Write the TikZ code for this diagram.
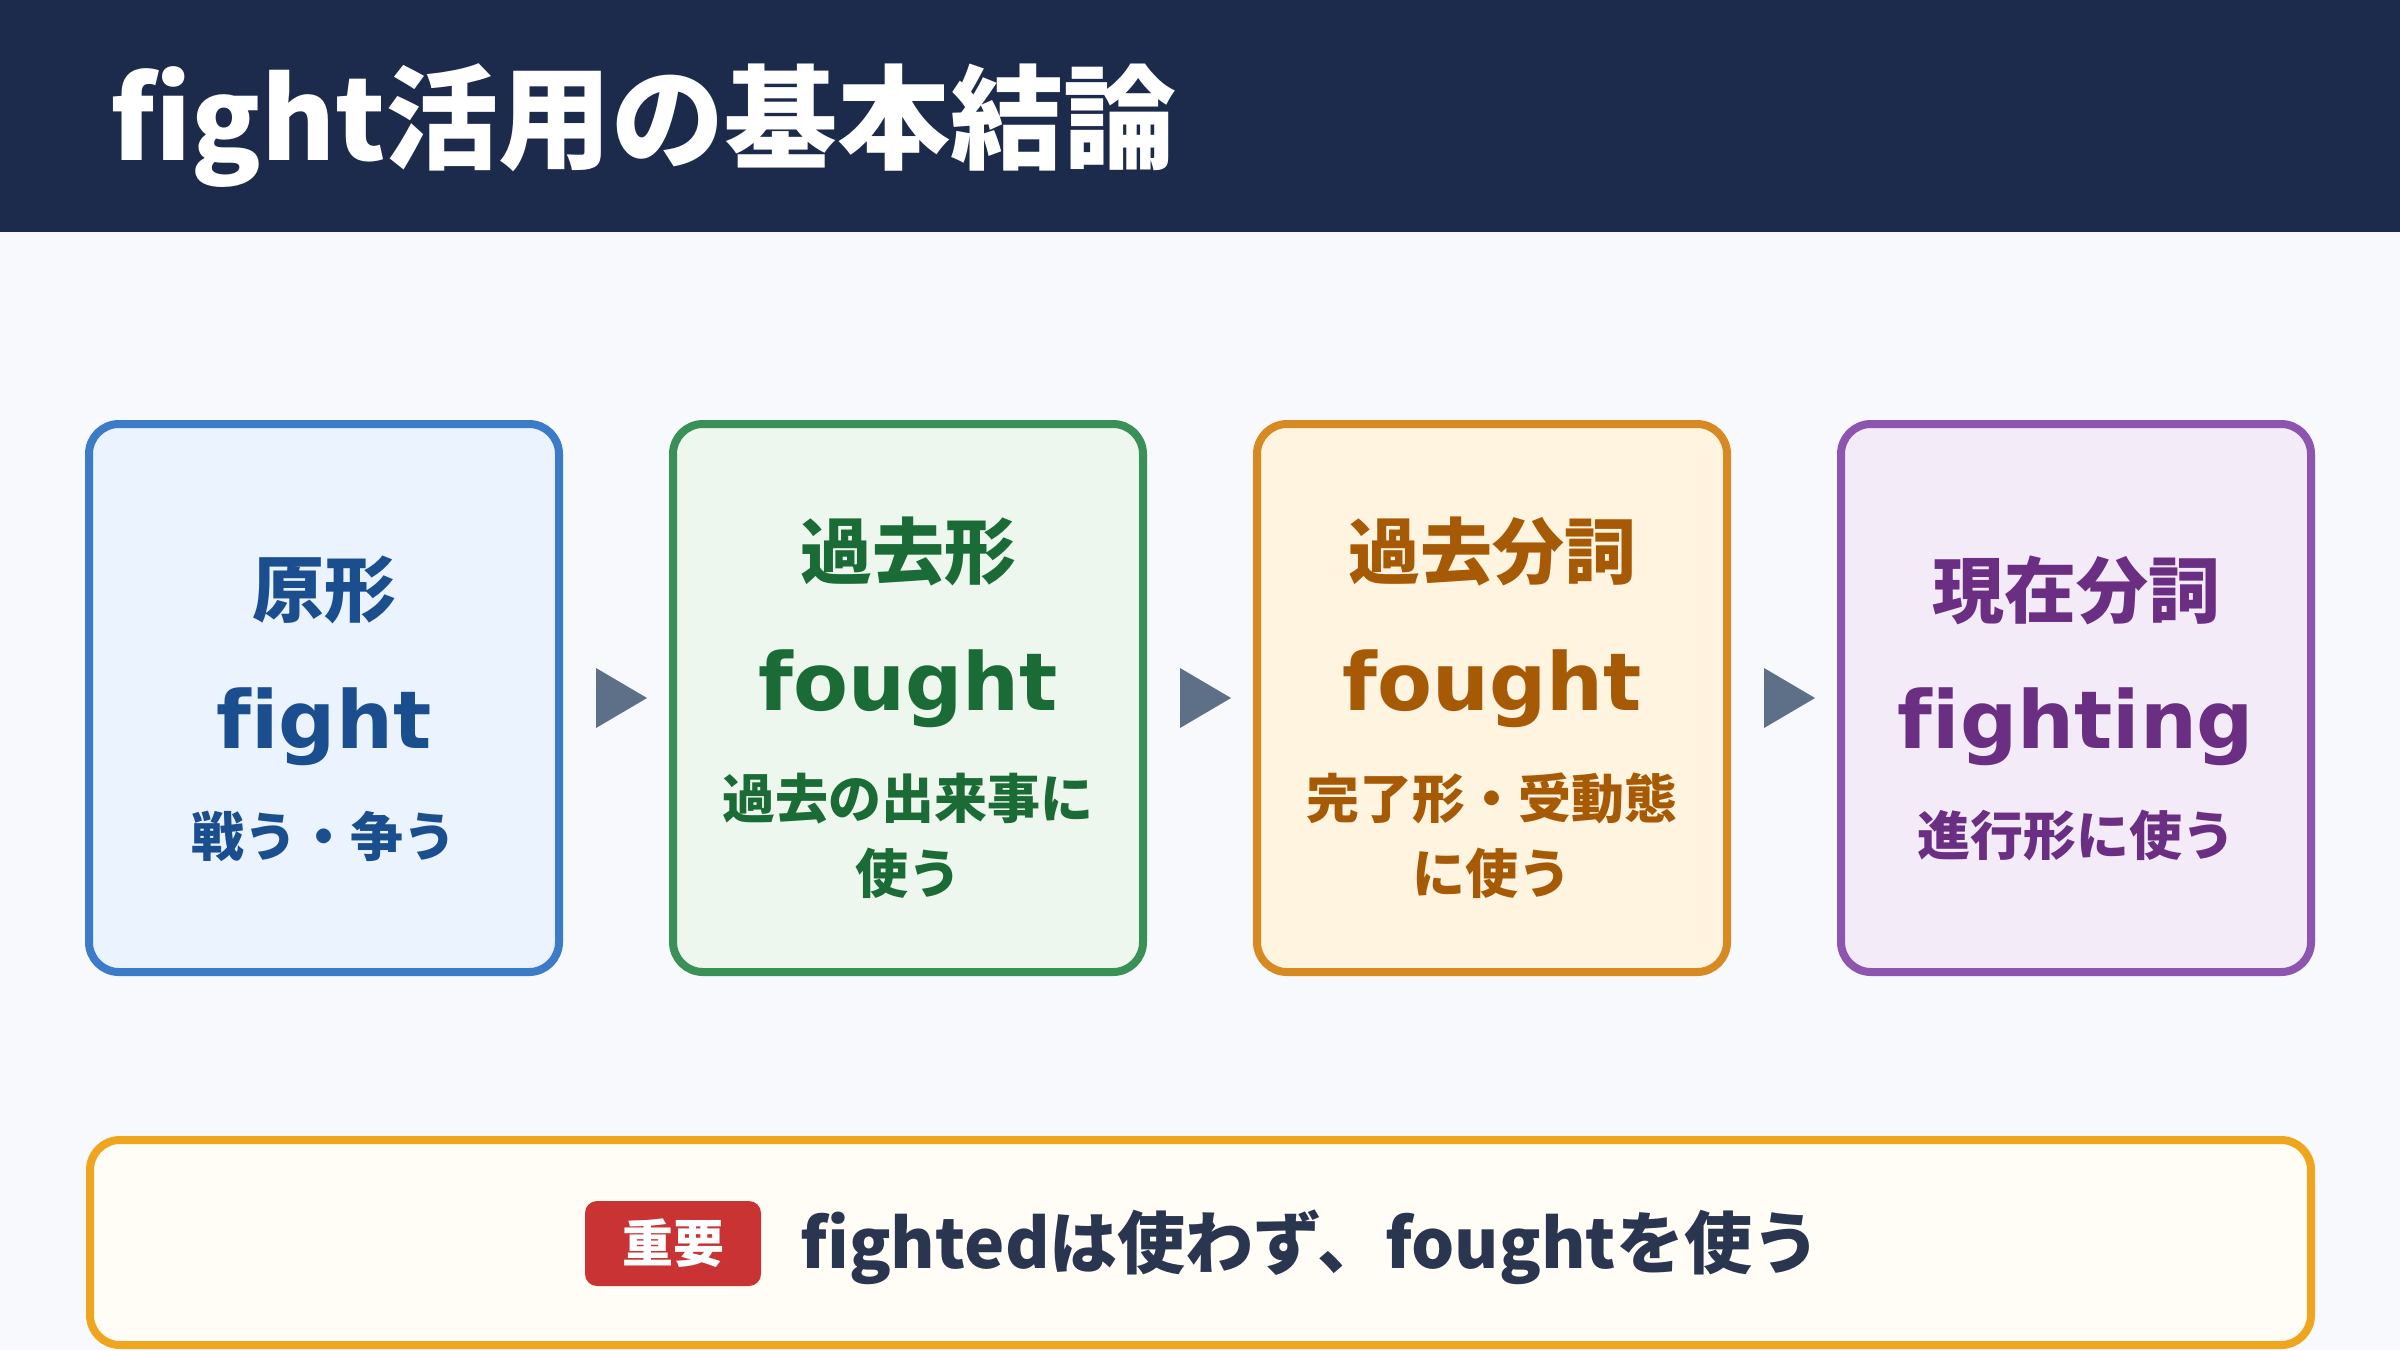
\documentclass[tikz,border=0pt]{standalone}
\usepackage{fontspec}
\setmainfont{Noto Sans CJK JP}[Ligatures=NoCommon]
\newfontfamily\dvs{DejaVu Sans}[Ligatures=NoCommon]
\usetikzlibrary{calc}
\definecolor{bg}{HTML}{F7F9FC}
\definecolor{navy}{HTML}{1C2A4B}
\definecolor{arrowc}{HTML}{5E6F88}
\definecolor{bluebd}{HTML}{3B7BC8}
\definecolor{bluefl}{HTML}{EBF3FE}
\definecolor{bluetx}{HTML}{1A4E8F}
\definecolor{greenbd}{HTML}{3A9158}
\definecolor{greenfl}{HTML}{EDF7EE}
\definecolor{greentx}{HTML}{1B6B36}
\definecolor{orangebd}{HTML}{D88A22}
\definecolor{orangefl}{HTML}{FFF4E0}
\definecolor{orangetx}{HTML}{A65A05}
\definecolor{purplebd}{HTML}{8E55B0}
\definecolor{purplefl}{HTML}{F4EBF8}
\definecolor{purpletx}{HTML}{6A2E82}
\definecolor{notebd}{HTML}{F0A51E}
\definecolor{notefl}{HTML}{FFFDF5}
\definecolor{badgered}{HTML}{C93333}
\definecolor{maintx}{HTML}{2A3550}
\tikzset{
  card/.style={draw=#1bd, fill=#1fl, line width=8pt, rounded corners=30pt,
    minimum width=470pt, minimum height=548pt, inner sep=0pt},
  cardtitle/.style={inner sep=0pt, text=#1, font=\fontsize{72}{86}\selectfont\bfseries},
  cardword/.style={inner sep=0pt, anchor=base, text=#1, font=\dvs\fontsize{80}{96}\selectfont\bfseries},
  cardsub/.style={inner sep=0pt, text=#1, align=center, font=\fontsize{53}{75}\selectfont\bfseries},
  flowtri/.style={fill=arrowc},
}
\begin{document}
\begin{tikzpicture}[x=1pt,y=-1pt]
\fill[bg] (0,0) rectangle (2400,1350);
\fill[navy] (0,0) rectangle (2400,232);
\node[inner sep=0pt, anchor=base west, text=white, font=\fontsize{113}{130}\selectfont\bfseries] (title) at (110,160) {fight活用の基本結論};

% cards
\node[card=blue] (c1) at (324,698) {};
\node[card=green] (c2) at (908,698) {};
\node[card=orange] (c3) at (1492,698) {};
\node[card=purple] (c4) at (2076,698) {};

% card 1
\node[cardtitle=bluetx] (t1) at (324,590) {原形};
\node[cardword=bluetx] (w1) at (324,748) {fight};
\node[cardsub=bluetx] (s1) at (324,836) {戦う・争う};
% card 2
\node[cardtitle=greentx] (t2) at (908,551) {過去形};
\node[cardword=greentx] (w2) at (908,710) {fought};
\node[cardsub=greentx] (s2) at (908,836) {過去の出来事に\\使う};
% card 3
\node[cardtitle=orangetx] (t3) at (1492,551) {過去分詞};
\node[cardword=orangetx] (w3) at (1492,710) {fought};
\node[cardsub=orangetx] (s3) at (1492,836) {完了形・受動態\\に使う};
% card 4
\node[cardtitle=purpletx] (t4) at (2076,590) {現在分詞};
\node[cardword=purpletx] (w4) at (2076,748) {fighting};
\node[cardsub=purpletx] (s4) at (2076,836) {進行形に使う};

% arrows
\fill[flowtri] ($(c1.east)!0.5!(c2.west)$) ++(-20,-30) -- ++(51,30) -- ++(-51,30) -- cycle;
\fill[flowtri] ($(c2.east)!0.5!(c3.west)$) ++(-20,-30) -- ++(51,30) -- ++(-51,30) -- cycle;
\fill[flowtri] ($(c3.east)!0.5!(c4.west)$) ++(-20,-30) -- ++(51,30) -- ++(-51,30) -- cycle;

% note box
\node[draw=notebd, fill=notefl, line width=8pt, rounded corners=30pt,
  minimum width=2221pt, minimum height=205pt, inner sep=0pt] (note) at (1200.5,1242.5) {};
\node[fill=badgered, rounded corners=12pt, minimum width=176pt, minimum height=85pt, inner sep=0pt] (badge) at (673,1243.5) {};
\node[inner sep=0pt, anchor=base, text=white, font=\fontsize{51}{60}\selectfont\bfseries] (badgetxt) at (673,1262) {重要};
\node[inner sep=0pt, anchor=base west, text=maintx, font=\fontsize{68}{80}\selectfont\bfseries] (msg) at (800,1268) {fightedは使わず、foughtを使う};
\end{tikzpicture}
\end{document}
